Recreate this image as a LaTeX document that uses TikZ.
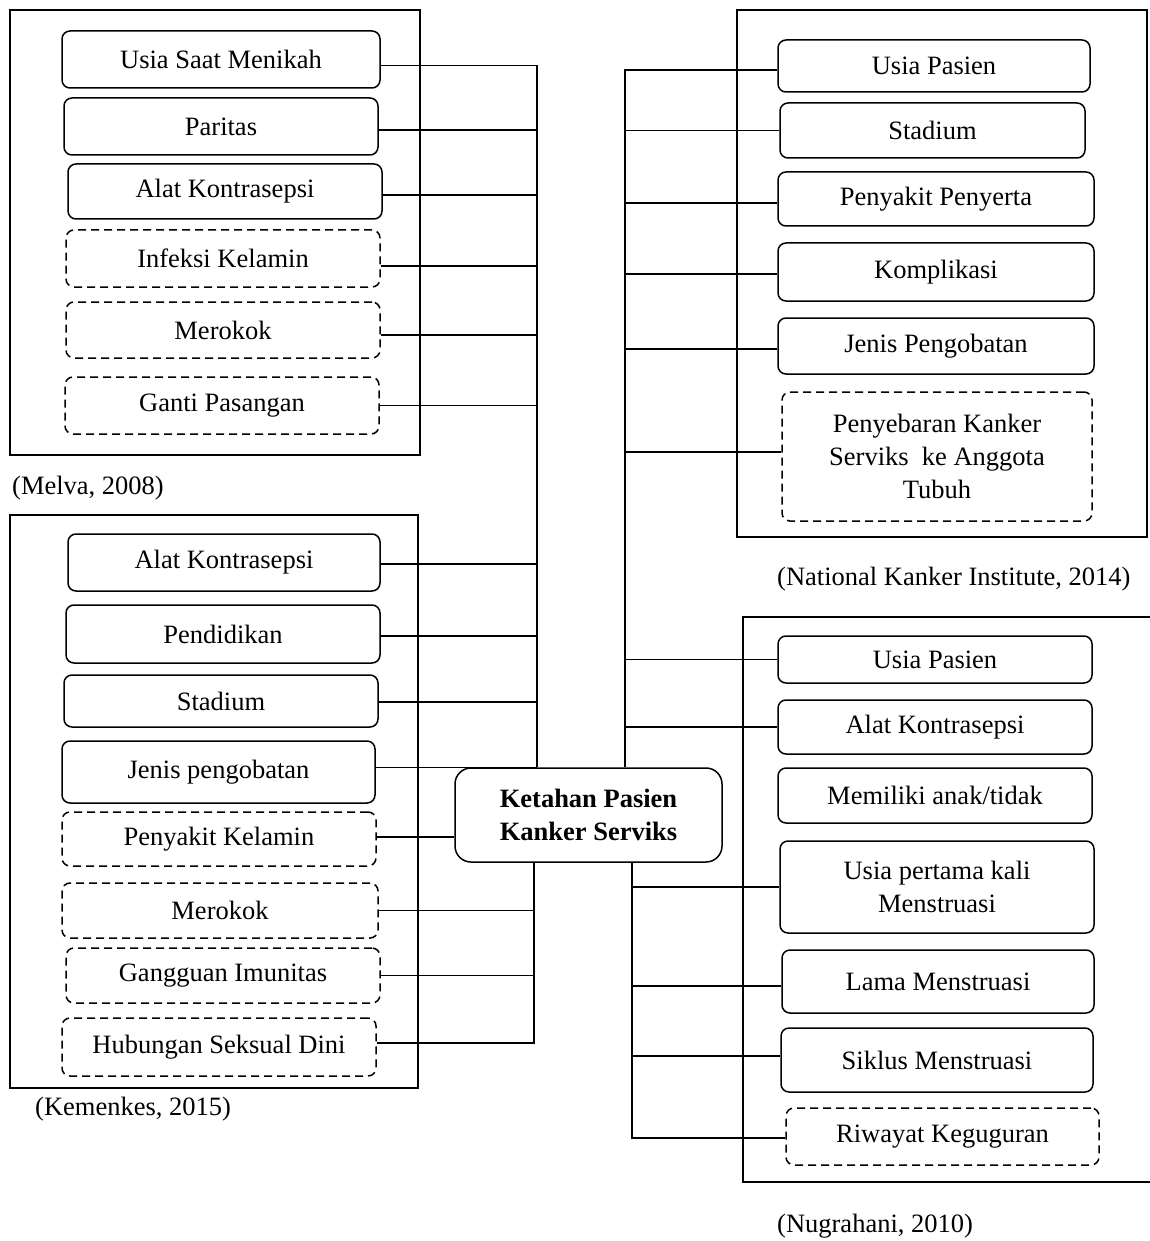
\documentclass[tikz,border=0pt]{standalone}
\usepackage{fontspec}
\setmainfont{Liberation Serif}
\newcommand\fs{\fontsize{26.5}{33}\selectfont}
\newcommand\mkbox[7]{\node[#1, minimum width={#5-#3}, minimum height={#6-#4}] (#2) at ({(#3+#5)/2},{(#4+#6)/2}) {#7};}
\begin{document}
\begin{tikzpicture}[x=1pt,y=-1pt,
  sbox/.style={draw, line width=1.5pt, rounded corners=8pt, inner sep=0pt, align=center, font=\fs},
  dbox/.style={sbox, dash pattern=on 8pt off 5pt},
  cbox/.style={draw, line width=1.5pt, rounded corners=16pt, inner sep=0pt, align=center, font=\fs\bfseries},
  frame/.style={line width=2.6pt},
  link/.style={line width=1.4pt},
  cite/.style={anchor=west, inner sep=0pt, font=\fs}]
\useasboundingbox (0,0) rectangle (1150,1241);
% frames
\draw[frame] (10,10) rectangle (420,455);
\draw[frame] (10,515) rectangle (418,1088);
\draw[frame] (737,10) rectangle (1147,537);
\draw[frame] (1150,617) -- (743,617) -- (743,1182) -- (1150,1182);
% Melva
\mkbox{sbox}{m1}{62}{31}{380}{88}{Usia Saat Menikah}
\mkbox{sbox}{m2}{64}{98}{378}{155}{Paritas}
\mkbox{sbox}{m3}{68}{164}{382}{219}{Alat Kontrasepsi}
\mkbox{dbox}{m4}{66}{230}{380}{287}{Infeksi Kelamin}
\mkbox{dbox}{m5}{66}{302}{380}{358}{Merokok}
\mkbox{dbox}{m6}{65}{377}{379}{434}{Ganti Pasangan}
\node[cite] (lm) at (12,488) {(Melva, 2008)};
% Kemenkes
\mkbox{sbox}{k1}{68}{534}{380}{591}{Alat Kontrasepsi}
\mkbox{sbox}{k2}{66}{605}{380}{663}{Pendidikan}
\mkbox{sbox}{k3}{64}{675}{378}{727}{Stadium}
\mkbox{sbox}{k4}{62}{741}{375}{803}{Jenis pengobatan}
\mkbox{dbox}{k5}{62}{812}{376}{866}{Penyakit Kelamin}
\mkbox{dbox}{k6}{62}{883}{378}{938}{Merokok}
\mkbox{dbox}{k7}{66}{948}{380}{1003}{Gangguan Imunitas}
\mkbox{dbox}{k8}{62}{1018}{376}{1076}{Hubungan Seksual Dini}
\node[cite] (lk) at (35,1109) {(Kemenkes, 2015)};
% center
\mkbox{cbox}{c}{455}{768}{722}{862}{Ketahan Pasien\\Kanker Serviks}
% National
\mkbox{sbox}{n1}{778}{40}{1090}{92}{Usia Pasien}
\mkbox{sbox}{n2}{780}{103}{1085}{158}{Stadium}
\mkbox{sbox}{n3}{778}{172}{1094}{226}{Penyakit Penyerta}
\mkbox{sbox}{n4}{778}{243}{1094}{301}{Komplikasi}
\mkbox{sbox}{n5}{778}{318}{1094}{374}{Jenis Pengobatan}
\mkbox{dbox}{n6}{782}{392}{1092}{521}{Penyebaran Kanker\\Serviks\ \ ke Anggota\\Tubuh}
\node[cite] (ln) at (777,579) {(National Kanker Institute, 2014)};
% Nugrahani
\mkbox{sbox}{g1}{778}{636}{1092}{683}{Usia Pasien}
\mkbox{sbox}{g2}{778}{700}{1092}{754}{Alat Kontrasepsi}
\mkbox{sbox}{g3}{778}{768}{1092}{823}{Memiliki anak/tidak}
\mkbox{sbox}{g4}{780}{841}{1094}{933}{Usia pertama kali\\Menstruasi}
\mkbox{sbox}{g5}{782}{950}{1094}{1013}{Lama Menstruasi}
\mkbox{sbox}{g6}{781}{1028}{1093}{1092}{Siklus Menstruasi}
\mkbox{dbox}{g7}{786}{1108}{1099}{1165}{Riwayat Keguguran}
\node[cite] (lg) at (777,1226) {(Nugrahani, 2010)};
% buses
\coordinate (bL) at (537,0);
\coordinate (bLL) at (534,0);
\coordinate (bR) at (625,0);
\coordinate (bRR) at (632,0);
% left upper connectors
\draw[link] ([yshift=-6pt]m1.east) -- ([yshift=-6pt]m1.east -| bL) -- (c.north -| bL);
\draw[link] ([yshift=-3.5pt]m2.east) -- ([yshift=-3.5pt]m2.east -| bL);
\draw[link] ([yshift=-3.5pt]m3.east) -- ([yshift=-3.5pt]m3.east -| bL);
\draw[link] ([yshift=-7.5pt]m4.east) -- ([yshift=-7.5pt]m4.east -| bL);
\draw[link] ([yshift=-5pt]m5.east) -- ([yshift=-5pt]m5.east -| bL);
\draw[link] (m6.east) -- (m6.east -| bL);
\draw[link] ([yshift=-1.5pt]k1.east) -- ([yshift=-1.5pt]k1.east -| bL);
\draw[link] ([yshift=-2pt]k2.east) -- ([yshift=-2pt]k2.east -| bL);
\draw[link] ([yshift=-1pt]k3.east) -- ([yshift=-1pt]k3.east -| bL);
\draw[link] (k4.east |- c.north) -- (c.north -| bL);
\draw[link] ([yshift=2pt]k5.east) -- ([yshift=2pt]k5.east -| c.west);
% left lower connectors
\draw[link] (c.south -| bLL) -- ([yshift=4pt]k8.east -| bLL) -- ([yshift=4pt]k8.east);
\draw[link] (k6.east) -- (k6.east -| bLL);
\draw[link] (k7.east) -- (k7.east -| bLL);
% right upper connectors
\draw[link] ([yshift=-4pt]n1.west) -- ([yshift=-4pt]n1.west -| bR) -- (c.north -| bR);
\draw[link] (n2.west) -- (n2.west -| bR);
\draw[link] ([yshift=-4pt]n3.west) -- ([yshift=-4pt]n3.west -| bR);
\draw[link] ([yshift=-2pt]n4.west) -- ([yshift=-2pt]n4.west -| bR);
\draw[link] ([yshift=-3pt]n5.west) -- ([yshift=-3pt]n5.west -| bR);
\draw[link] ([yshift=4.5pt]n6.west) -- ([yshift=4.5pt]n6.west -| bR);
\draw[link] (g1.west) -- (g1.west -| bR);
\draw[link] (g2.west) -- (g2.west -| bR);
% right lower connectors
\draw[link] (c.south -| bRR) -- ([yshift=-1.5pt]g7.west -| bRR) -- ([yshift=-1.5pt]g7.west);
\draw[link] (g4.west -| bRR) -- (g4.west);
\draw[link] ([yshift=-4.5pt]g5.west -| bRR) -- ([yshift=-4.5pt]g5.west);
\draw[link] ([yshift=4pt]g6.west -| bRR) -- ([yshift=4pt]g6.west);
\end{tikzpicture}
\end{document}
